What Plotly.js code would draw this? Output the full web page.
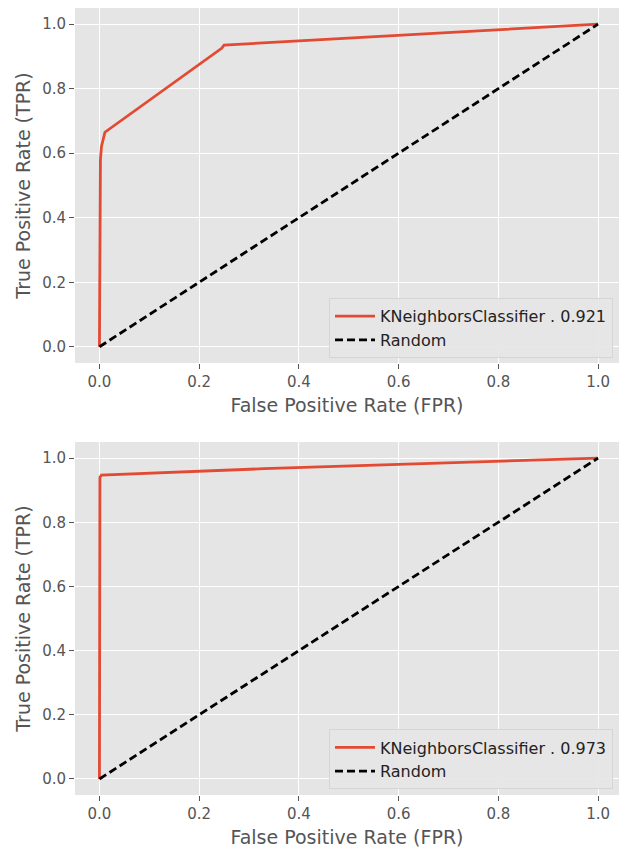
<!DOCTYPE html>
<html><head><meta charset="utf-8">
<script src="https://cdn.plot.ly/plotly-3.0.1.min.js"></script>
<style>html,body{margin:0;padding:0;background:#fff}</style>
</head><body><div id="chart" style="width:619px;height:850px"></div>
<script>
// Top chart ROC curve
const fpr1 = [0, 0.001, 0.002, 0.004, 0.011, 0.245, 0.25, 0.40, 1.0];
const tpr1 = [0, 0.30, 0.58, 0.62, 0.665, 0.925, 0.935, 0.948, 1.0];
const label1 = 'KNeighborsClassifier . 0.921';
// Bottom chart ROC curve
const fpr2 = [0, 0.001, 0.004, 0.2, 0.33, 1.0];
const tpr2 = [0, 0.94, 0.947, 0.958, 0.967, 1.0];
const label2 = 'KNeighborsClassifier . 0.973';
// Random baseline
const randX = [0, 1];
const randY = [0, 1];
const tickVals = [0, 0.2, 0.4, 0.6, 0.8, 1.0];
const tickText = ['0.0', '0.2', '0.4', '0.6', '0.8', '1.0'];

const red = '#E24A33';
const traces = [
  {x: fpr1, y: tpr1, xaxis: 'x', yaxis: 'y', mode: 'lines', name: label1, line: {color: red, width: 2.8}, legend: 'legend'},
  {x: randX, y: randY, xaxis: 'x', yaxis: 'y', mode: 'lines', name: 'Random', line: {color: '#000', width: 2.8, dash: '8px,4px'}, legend: 'legend'},
  {x: fpr2, y: tpr2, xaxis: 'x2', yaxis: 'y2', mode: 'lines', name: label2, line: {color: red, width: 2.8}, legend: 'legend2'},
  {x: randX, y: randY, xaxis: 'x2', yaxis: 'y2', mode: 'lines', name: 'Random', line: {color: '#000', width: 2.8, dash: '8px,4px'}, legend: 'legend2'}
];
const tickFont = {family: 'DejaVu Sans', size: 15, color: '#555555'};
const titleFont = {family: 'DejaVu Sans', size: 19, color: '#555555'};
function xax(anchor) {
  return {anchor: anchor, domain: [0, 1], range: [-0.049, 1.042], tickvals: tickVals, ticktext: tickText,
    showgrid: true, gridcolor: '#ffffff', gridwidth: 1, zeroline: false, showline: false,
    ticks: 'outside', ticklen: 5, tickcolor: '#555555', tickfont: tickFont,
    title: {text: 'False Positive Rate (FPR)', font: titleFont, standoff: 8}};
}
function yax(anchor, dom) {
  return {anchor: anchor, domain: dom, range: [-0.05, 1.05], tickvals: tickVals, ticktext: tickText,
    showgrid: true, gridcolor: '#ffffff', gridwidth: 1, zeroline: false, showline: false,
    ticks: 'outside', ticklen: 5, tickcolor: '#555555', tickfont: tickFont,
    title: {text: 'True Positive Rate (TPR)', font: titleFont, standoff: 6}};
}
const legendStyle = (y) => ({x: 0.989, y: y, xanchor: 'right', yanchor: 'bottom', bgcolor: 'rgba(229,229,229,0.9)',
  bordercolor: '#d5d5d5', borderwidth: 1, font: {family: 'DejaVu Sans', size: 16, color: '#222'}, tracegroupgap: 0, itemwidth: 40});
const layout = {
  width: 619, height: 850,
  margin: {l: 75, r: 0, t: 8, b: 55},
  paper_bgcolor: '#ffffff', plot_bgcolor: '#E5E5E5',
  showlegend: true,
  xaxis: xax('y'), yaxis: yax('x', [0.549, 1]),
  xaxis2: xax('y2'), yaxis2: yax('x2', [0, 0.4485]),
  legend: legendStyle(0.555),
  legend2: legendStyle(0.007),
  font: tickFont
};
Plotly.newPlot('chart', traces, layout, {displayModeBar: false, staticPlot: true});
</script></body></html>
